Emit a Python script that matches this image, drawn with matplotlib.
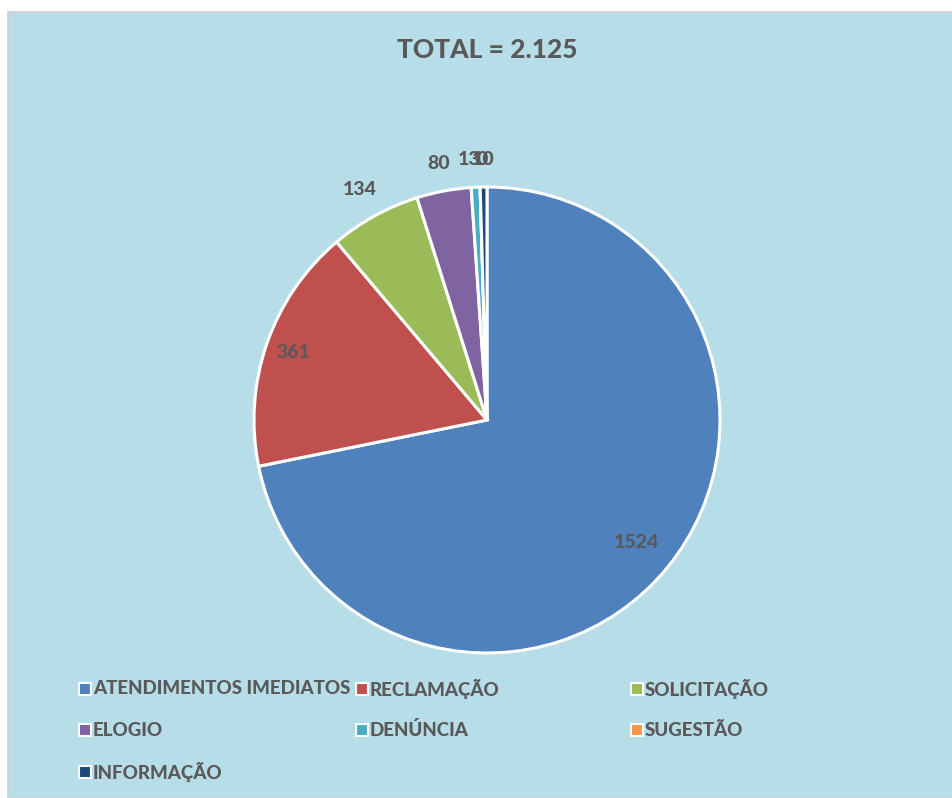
import numpy as np
import matplotlib.pyplot as plt
from matplotlib.patches import Rectangle
from matplotlib.lines import Line2D

plt.rcParams['font.family'] = ['Lato', 'DejaVu Sans']

categories = ['ATENDIMENTOS IMEDIATOS', 'RECLAMAÇÃO', 'SOLICITAÇÃO', 'ELOGIO',
              'DENÚNCIA', 'SUGESTÃO', 'INFORMAÇÃO']
values = [1524, 361, 134, 80, 13, 0, 10]
colors = ['#4F81BD', '#C0504D', '#9BBB59', '#8064A2', '#4BACC6', '#F79646', '#1F497D']
title = 'TOTAL = 2.125'

bg = '#B7DDE8'
txt = '#595959'

W, H = 953, 798
fig = plt.figure(figsize=(W / 100, H / 100), dpi=100)
fig.patch.set_facecolor('white')

# chart area (behind everything)
fig.add_artist(Rectangle((8 / W, 0), 1 - 8 / W, 1 - 12 / H, transform=fig.transFigure,
                         facecolor=bg, edgecolor='#D0D0D0', linewidth=1.2, zorder=-10))

# pie axes: centre (487, 420), radius ~233 px
R = 233
cx, cy = 487, 420
ax = fig.add_axes([(cx - R) / W, 1 - (cy + R) / H, 2 * R / W, 2 * R / H])
ax.set_facecolor('none')
wedges, _ = ax.pie(values, colors=colors, startangle=90, counterclock=False,
                   radius=1.0, wedgeprops=dict(edgecolor='white', linewidth=2.2))
ax.set_xlim(-1, 1)
ax.set_ylim(-1, 1)
ax.set_aspect('equal')
ax.axis('off')

# data labels: inside for the big slices, outside for the small ones
dist = [0.83, 0.88, 1.13, 1.12, 1.12, 1.12, 1.12]
shift = [0, 0, 0, 0, -0.02, 0.013, 0.0]
for w, v, d, s in zip(wedges, values, dist, shift):
    a = np.deg2rad((w.theta1 + w.theta2) / 2)
    ax.text(d * np.cos(a) + s, d * np.sin(a), str(v), ha='center', va='center',
            fontsize=14, fontweight='black', color=txt, clip_on=False)

fig.text(cx / W, 1 - 50 / H, title, ha='center', va='center',
         fontsize=19, fontweight='black', color=txt)

# legend, three columns
col_x = [85, 362, 637]
row_y = [689, 730, 772]
for i, (name, c) in enumerate(zip(categories, colors)):
    x = col_x[i % 3]
    y = row_y[i // 3]
    fig.add_artist(Line2D([x / W], [1 - y / H], marker='s', markersize=8,
                          markerfacecolor=c, markeredgecolor='white',
                          markeredgewidth=1.5, linestyle='none',
                          transform=fig.transFigure))
    fig.text((x + 8) / W, 1 - y / H, name, ha='left', va='center',
             fontsize=13.5, fontweight='black', color=txt)

fig.savefig('out.png', dpi=100)
